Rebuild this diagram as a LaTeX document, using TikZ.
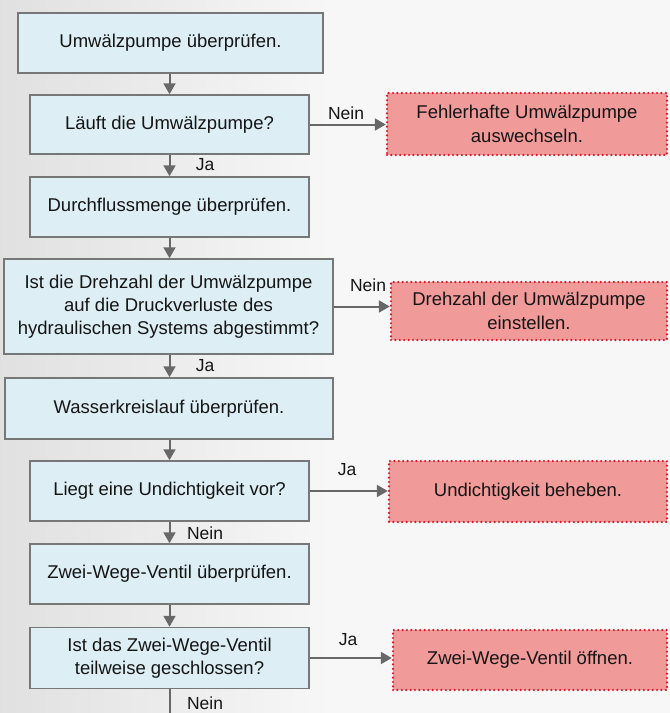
\documentclass[tikz,border=0pt]{standalone}
\usepackage{fontspec}
\setmainfont{Liberation Sans}
\usetikzlibrary{arrows.meta}

\definecolor{boxfill}{HTML}{DDEEF5}
\definecolor{boxline}{HTML}{777777}
\definecolor{actfill}{HTML}{F09A9A}
\definecolor{actline}{HTML}{E3101E}
\definecolor{flowgray}{HTML}{686868}
\definecolor{inktext}{HTML}{151515}

\tikzset{
  stepbox/.style={draw=boxline, fill=boxfill, line width=1.5pt, align=center,
    inner sep=0pt, text=inktext, font=\fontsize{18.5}{23}\selectfont},
  actbox/.style={fill=actfill, draw=actline, line width=2.4pt,
    dash pattern=on 0pt off 4.4pt, line cap=round, align=center, inner sep=0pt,
    text=inktext, font=\fontsize{18.5}{24}\selectfont},
  flow/.style={draw=flowgray, line width=2pt,
    -{Triangle[length=11pt,width=12pt]}},
  plainflow/.style={draw=flowgray, line width=2pt},
  answer/.style={text=inktext, inner sep=0pt, font=\fontsize{17.5}{20}\selectfont}
}

\begin{document}
\begin{tikzpicture}[x=1pt, y=-1pt]
  \useasboundingbox (0,0) rectangle (670,713);
  % soft paper background
  \shade[left color=black!12, right color=white!97!black, middle color=white!97!black] (0,0) rectangle (670,713);

  % main sequence of checks
  \node[stepbox, minimum width=305pt, minimum height=60pt] (b1) at (170.5,43) {Umwälzpumpe überprüfen.};
  \node[stepbox, minimum width=279pt, minimum height=59pt] (b2) at (169.5,124.5) {Läuft die Umwälzpumpe?};
  \node[stepbox, minimum width=279pt, minimum height=60pt] (b3) at (169.5,207) {Durchflussmenge überprüfen.};
  \node[stepbox, minimum width=329pt, minimum height=95pt] (b4) at (168.5,306.5)
    {Ist die Drehzahl der Umwälzpumpe\\auf die Druckverluste des\\hydraulischen Systems abgestimmt?};
  \node[stepbox, minimum width=328pt, minimum height=61pt] (b5) at (169,408.5) {Wasserkreislauf überprüfen.};
  \node[stepbox, minimum width=279pt, minimum height=60pt] (b6) at (169.5,491) {Liegt eine Undichtigkeit vor?};
  \node[stepbox, minimum width=279pt, minimum height=60pt] (b7) at (169.5,574) {Zwei-Wege-Ventil überprüfen.};
  \node[stepbox, minimum width=279pt, minimum height=61pt] (b8) at (169.5,658)
    {Ist das Zwei-Wege-Ventil\\teilweise geschlossen?};

  % remedies
  \node[actbox, minimum width=280pt, minimum height=62pt] (r1) at (527,124) {Fehlerhafte Umwälzpumpe\\auswechseln.};
  \node[actbox, minimum width=276pt, minimum height=58pt] (r2) at (529,311) {Drehzahl der Umwälzpumpe\\einstellen.};
  \node[actbox, minimum width=278pt, minimum height=61pt] (r3) at (528,491.5) {Undichtigkeit beheben.};
  \node[actbox, minimum width=274pt, minimum height=60pt] (r4) at (530,660) {Zwei-Wege-Ventil öffnen.};

  \coordinate (tail) at (169.5,713);

  % downward flow
  \draw[flow] (b1.south -| b2) -- (b2.north);
  \draw[flow] (b2.south) -- (b3.north);
  \draw[flow] (b3.south) -- (b4.north -| b3);
  \draw[flow] (b4.south -| b3) -- (b5.north -| b3);
  \draw[flow] (b5.south -| b6) -- (b6.north);
  \draw[flow] (b6.south) -- (b7.north);
  \draw[flow] (b7.south) -- (b8.north);
  \draw[plainflow] (b8.south) -- (tail);

  % side branches
  \draw[flow] (b2.east) -- (b2.east -| r1.west);
  \draw[flow] (b4.east) -- (b4.east -| r2.west);
  \draw[flow] (b6.east) -- (b6.east -| r3.west);
  \draw[flow] (b8.east) -- (b8.east -| r4.west);

  % answers
  \node[answer] (a1) at (205,165) {Ja};
  \node[answer] (a2) at (205,366) {Ja};
  \node[answer] (a3) at (205,533) {Nein};
  \node[answer] (a4) at (205,703) {Nein};
  \node[answer] (n1) at (346,113) {Nein};
  \node[answer] (n2) at (368,285) {Nein};
  \node[answer] (n3) at (347,470) {Ja};
  \node[answer] (n4) at (348,640) {Ja};
\end{tikzpicture}
\end{document}
